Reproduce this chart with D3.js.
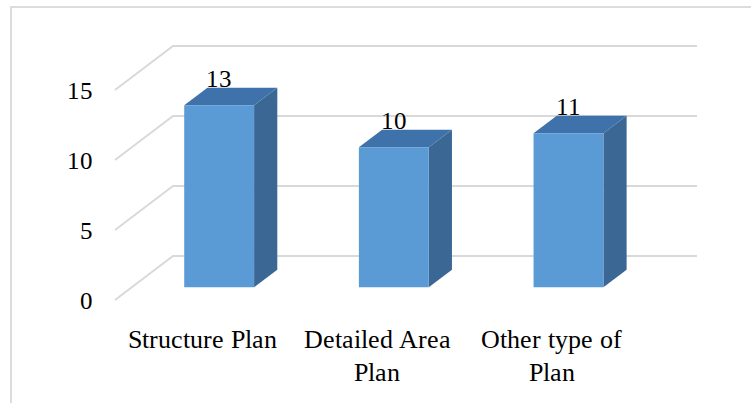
<!DOCTYPE html>
<html>
<head>
<meta charset="utf-8">
<script src="https://cdn.jsdelivr.net/npm/d3@7"></script>
<style>
  @font-face {
    font-family: "ChartSerif";
    src: local("Liberation Serif"), local("LiberationSerif"), local("LiberationSerif-Regular"), local("Times New Roman");
  }
  body { margin: 0; }
  svg text { font-family: "ChartSerif", "Liberation Serif", "Times New Roman"; }
</style>
</head>
<body>
<div id="chart"></div>
<script>
// chart data
const categories = ["Structure Plan", "Detailed Area Plan", "Other type of Plan"];
const values = [13, 10, 11];
const yTicks = [0, 5, 10, 15];

const W = 751, H = 403;
// front plane of the 3d box, depth is drawn as an offset up/right
const plot = { left: 115, right: 639, top: 90, bottom: 300 };
const depth = { dx: 58, dy: -44 };
const barFront = 0.29, barBack = 0.69; // fraction of the depth

// greedy word wrap by character count
function wrapWords(s, maxChars) {
    const lines = [];
    let cur = "";
    s.split(" ").forEach(w => {
        const next = cur ? cur + " " + w : w;
        if (next.length > maxChars && cur) { lines.push(cur); cur = w; }
        else cur = next;
    });
    lines.push(cur);
    return lines;
}

function draw() {
    const svg = d3.select("#chart").append("svg")
        .attr("width", W)
        .attr("height", H)
        .style("display", "block");

    // outer frame (right and bottom edges fall outside the picture)
    svg.append("rect")
        .attr("x", 11).attr("y", 7)
        .attr("width", W + 20).attr("height", H + 20)
        .attr("fill", "none")
        .attr("stroke", "#dcdcdc")
        .attr("stroke-width", 2);

    const x = d3.scaleBand()
        .domain(categories)
        .range([plot.left, plot.right])
        .paddingInner(0.6)
        .paddingOuter(0.3);

    const y = d3.scaleLinear()
        .domain([0, 15])
        .range([plot.bottom, plot.top]);

    // gridlines: left wall diagonal + back wall horizontal
    svg.append("g").selectAll("polyline")
        .data(yTicks)
        .join("polyline")
        .attr("points", d => [
            [plot.left, y(d)],
            [plot.left + depth.dx, y(d) + depth.dy],
            [plot.right + depth.dx, y(d) + depth.dy]
        ].map(p => p.join(",")).join(" "))
        .attr("fill", "none")
        .attr("stroke", "#d9d9d9")
        .attr("stroke-width", 2);

    // y tick labels
    svg.selectAll("text.ytick")
        .data(yTicks)
        .join("text")
        .attr("class", "ytick")
        .attr("x", 93)
        .attr("y", d => y(d) + 9)
        .attr("text-anchor", "end")
        .attr("font-size", 25)
        .text(d => d);

    // bars
    const fx = depth.dx * barFront, fy = depth.dy * barFront;
    const bdx = depth.dx * (barBack - barFront), bdy = depth.dy * (barBack - barFront);
    const data = categories.map((c, i) => ({ cat: c, v: values[i] }));

    svg.append("g").selectAll("g")
        .data(data)
        .join("g")
        .each(function (d) {
            const g = d3.select(this);
            const x0 = x(d.cat) + fx, x1 = x0 + x.bandwidth();
            const yTop = y(d.v) + fy, yBot = y(0) + fy;
            const pts = a => a.map(p => p.join(",")).join(" ");
            // right side
            g.append("polygon")
                .attr("points", pts([[x1, yTop], [x1 + bdx, yTop + bdy], [x1 + bdx, yBot + bdy], [x1, yBot]]))
                .attr("fill", "#3a6794");
            // top
            g.append("polygon")
                .attr("points", pts([[x0, yTop], [x0 + bdx, yTop + bdy], [x1 + bdx, yTop + bdy], [x1, yTop]]))
                .attr("fill", "#3f72aa");
            // front
            g.append("rect")
                .attr("x", x0).attr("y", yTop)
                .attr("width", x1 - x0).attr("height", yBot - yTop)
                .attr("fill", "#5b9bd5");
        });

    // value labels
    svg.selectAll("text.val")
        .data(data)
        .join("text")
        .attr("class", "val")
        .attr("x", d => x(d.cat) + fx + x.bandwidth() / 2)
        .attr("y", d => y(d.v) + fy + bdy - 1)
        .attr("text-anchor", "middle")
        .attr("font-size", 25)
        .text(d => d.v);

    // category labels, wrapped
    svg.selectAll("text.cat")
        .data(categories)
        .join("text")
        .attr("class", "cat")
        .attr("x", d => x(d) + x.bandwidth() / 2)
        .attr("y", 348)
        .attr("text-anchor", "middle")
        .attr("font-size", 26)
        .selectAll("tspan")
        .data(d => wrapWords(d, 14))
        .join("tspan")
        .attr("x", function () { return this.parentNode.getAttribute("x"); })
        .attr("dy", (d, i) => i ? 33 : 0)
        .text(d => d);
}

if (document.fonts && document.fonts.load) {
    document.fonts.load('25px "ChartSerif"').then(draw, draw);
} else {
    draw();
}
</script>
</body>
</html>
